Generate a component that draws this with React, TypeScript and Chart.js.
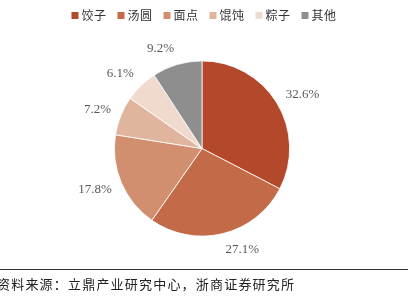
import React, { useEffect, useRef } from "react";
import { Chart, registerables } from "chart.js";

Chart.register(...registerables);

const categories = ["饺子", "汤圆", "面点", "馄饨", "粽子", "其他"];
const shares = [32.6, 27.1, 17.8, 7.2, 6.1, 9.2];
const colors = ["#B3482B", "#C36B49", "#D28F70", "#E1B49D", "#F0DACD", "#8E8E8E"];
const sourceNote = "资料来源：立鼎产业研究中心，浙商证券研究所";

const W = 408;
const H = 303;

const labelPlugin = {
  id: "pieLabels",
  afterDatasetsDraw(chart: any) {
    const ctx = chart.ctx;
    const meta = chart.getDatasetMeta(0);
    ctx.save();
    ctx.font = '13px "Liberation Serif", "Times New Roman", serif';
    ctx.fillStyle = "#595959";
    ctx.textAlign = "center";
    ctx.textBaseline = "middle";
    meta.data.forEach((arc: any, i: number) => {
      const p = arc.getProps(["x", "y", "startAngle", "endAngle", "outerRadius"], true);
      const mid = (p.startAngle + p.endAngle) / 2;
      const dx = Math.cos(mid);
      const dy = Math.sin(mid);
      const text = shares[i].toFixed(1) + "%";
      const w = ctx.measureText(text).width;
      const r = p.outerRadius + 10.5;
      const x = p.x + dx * r + Math.sign(dx) * w / 2;
      const y = p.y + dy * r + dy * 6.5;
      ctx.fillText(text, x, y);
    });
    ctx.restore();
  },
};

const legendFooterPlugin = {
  id: "legendFooter",
  afterDraw(chart: any) {
    const ctx = chart.ctx;
    ctx.save();
    // legend
    ctx.font = '12px "Noto Sans CJK SC", sans-serif';
    ctx.textBaseline = "middle";
    ctx.textAlign = "left";
    (ctx as any).letterSpacing = "0.5px";
    const box = 7;
    const gap = 3;
    const spacing = 11;
    const widths = categories.map((c) => box + gap + ctx.measureText(c).width);
    const total = widths.reduce((a, b) => a + b, 0) + spacing * (categories.length - 1);
    let x = (W - total) / 2;
    const ly = 15.5;
    categories.forEach((c, i) => {
      ctx.fillStyle = colors[i];
      ctx.fillRect(x, ly - box / 2, box, box);
      ctx.fillStyle = "#333333";
      ctx.fillText(c, x + box + gap, ly);
      x += widths[i] + spacing;
    });
    // footer line
    ctx.strokeStyle = "#333333";
    ctx.lineWidth = 1;
    ctx.beginPath();
    ctx.moveTo(0, 269.5);
    ctx.lineTo(W, 269.5);
    ctx.stroke();
    // footer text
    ctx.font = '13px "Noto Sans CJK SC", sans-serif';
    (ctx as any).letterSpacing = "1.2px";
    ctx.fillStyle = "#222222";
    ctx.fillText(sourceNote, -3, 284.5);
    ctx.restore();
  },
};

export default function App() {
  const ref = useRef<HTMLCanvasElement | null>(null);
  useEffect(() => {
    if (!ref.current) return;
    const chart = new Chart(ref.current, {
      type: "pie",
      data: {
        labels: categories,
        datasets: [
          {
            data: shares,
            backgroundColor: colors,
            borderColor: "#ffffff",
            borderWidth: 0.8,
          },
        ],
      },
      options: {
        responsive: false,
        animation: false,
        layout: { padding: { left: 114, right: 118, top: 60.5, bottom: 66.5 } },
        plugins: {
          legend: { display: false },
          tooltip: { enabled: false },
        },
      },
      plugins: [labelPlugin, legendFooterPlugin],
    });
    return () => chart.destroy();
  }, []);
  return (
    <div style={{ position: "absolute", left: 0, top: 0, width: W, height: H, background: "#fff" }}>
      <canvas ref={ref} width={W} height={H} />
    </div>
  );
}
